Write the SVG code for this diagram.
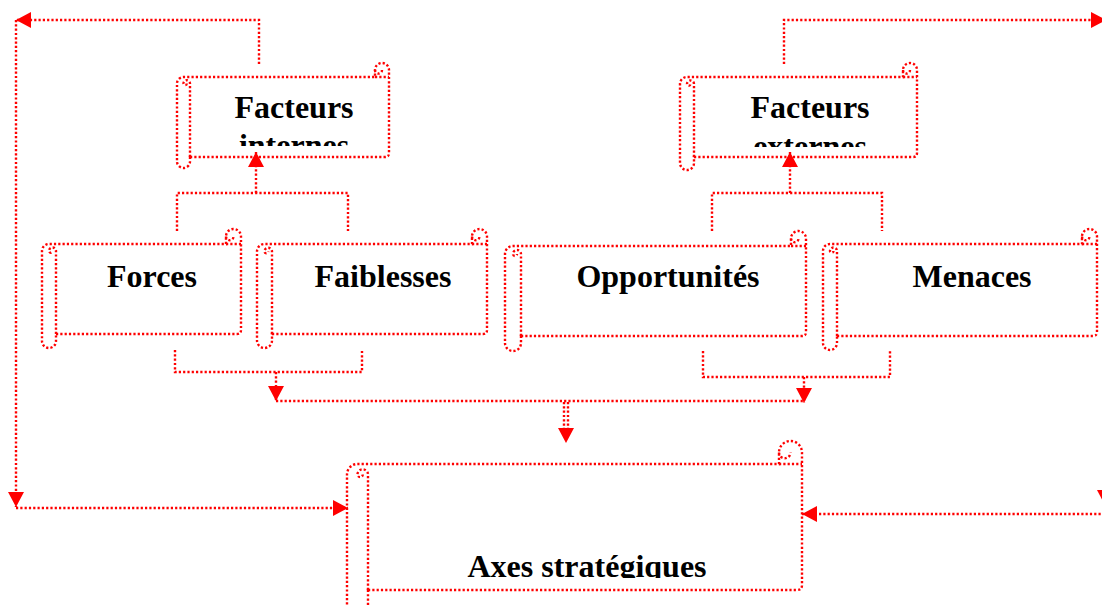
<svg xmlns="http://www.w3.org/2000/svg" width="1102" height="606" viewBox="0 0 1102 606">
<style>
.sh{fill:#fff;stroke:#f00;stroke-width:2.4;stroke-dasharray:2.2 2.1}
.dt{fill:none;stroke:#f00;stroke-width:2.4;stroke-dasharray:2.2 2.1}
.cn{fill:none;stroke:#f00;stroke-width:2.4;stroke-dasharray:2.2 2.1}
.ah{marker-end:url(#ah)}
.tx{font-family:"Liberation Serif","Times New Roman",serif;font-weight:bold;font-size:32px;fill:#000;text-anchor:middle}
</style>
<defs>
<marker id="ah" viewBox="0 0 15 16" refX="15" refY="8" markerWidth="15" markerHeight="16" orient="auto" markerUnits="userSpaceOnUse"><path d="M0,0 L15,8 L0,16 Z" fill="#f00"/></marker>
<clipPath id="cFI"><rect x="190" y="80" width="199" height="66"/></clipPath>
<clipPath id="cFE"><rect x="694" y="80" width="223" height="67"/></clipPath>
<clipPath id="cAX"><rect x="368" y="470" width="434" height="108"/></clipPath>
</defs>
<g id="node-facteurs-internes">
<path class="sh" d="M190,157 H385 Q389,157 389,153 V70 A7,7 0 0 0 375,70 V77 H183.5 A6.5,6.5 0 0 0 177,83.5 V161.5 A6.5,6.5 0 0 0 190,161.5 Z"/>
<path class="dt" d="M190,157 V83.5 A3.25,3.25 0 0 0 183.5,83.5 A1.625,1.625 0 0 0 186.75,83.5 M375,77 H389 M375,70 A3.5,3.5 0 0 0 382,70"/>
<g clip-path="url(#cFI)"><text class="tx" x="294" y="118">Facteurs</text><text class="tx" x="294" y="156">internes</text></g>
</g>
<g id="node-facteurs-externes">
<path class="sh" d="M694,157 H913 Q917,157 917,153 V70 A7,7 0 0 0 903,70 V77 H687 A7,7 0 0 0 680,84 V163 A7,7 0 0 0 694,163 Z"/>
<path class="dt" d="M694,157 V84 A3.5,3.5 0 0 0 687,84 A1.75,1.75 0 0 0 690.5,84 M903,77 H917 M903,70 A3.5,3.5 0 0 0 910,70"/>
<g clip-path="url(#cFE)"><text class="tx" x="810" y="118">Facteurs</text><text class="tx" x="810" y="157">externes</text></g>
</g>
<g id="node-forces">
<path class="sh" d="M56,334 H237 Q241,334 241,330 V236.5 A7.5,7.5 0 0 0 226,236.5 V244 H49 A7,7 0 0 0 42,251 V341 A7,7 0 0 0 56,341 Z"/>
<path class="dt" d="M56,334 V251 A3.5,3.5 0 0 0 49,251 A1.75,1.75 0 0 0 52.5,251 M226,244 H241 M226,236.5 A3.75,3.75 0 0 0 233.5,236.5"/>
<text class="tx" x="152" y="287">Forces</text>
</g>
<g id="node-faiblesses">
<path class="sh" d="M272,334 H483 Q487,334 487,330 V236.5 A7.5,7.5 0 0 0 472,236.5 V244 H264.5 A7.5,7.5 0 0 0 257,251.5 V340.5 A7.5,7.5 0 0 0 272,340.5 Z"/>
<path class="dt" d="M272,334 V251.5 A3.75,3.75 0 0 0 264.5,251.5 A1.875,1.875 0 0 0 268.25,251.5 M472,244 H487 M472,236.5 A3.75,3.75 0 0 0 479.5,236.5"/>
<text class="tx" x="383" y="287">Faiblesses</text>
</g>
<g id="node-opportunites">
<path class="sh" d="M521,336 H802 Q806,336 806,332 V238.5 A7.5,7.5 0 0 0 791,238.5 V246 H513 A8,8 0 0 0 505,254 V343 A8,8 0 0 0 521,343 Z"/>
<path class="dt" d="M521,336 V254 A4,4 0 0 0 513,254 A2,2 0 0 0 517,254 M791,246 H806 M791,238.5 A3.75,3.75 0 0 0 798.5,238.5"/>
<text class="tx" x="668" y="287">Opportunités</text>
</g>
<g id="node-menaces">
<path class="sh" d="M837,336 H1093 Q1097,336 1097,332 V236.5 A7.5,7.5 0 0 0 1082,236.5 V244 H830 A7,7 0 0 0 823,251 V343 A7,7 0 0 0 837,343 Z"/>
<path class="dt" d="M837,336 V251 A3.5,3.5 0 0 0 830,251 A1.75,1.75 0 0 0 833.5,251 M1082,244 H1097 M1082,236.5 A3.75,3.75 0 0 0 1089.5,236.5"/>
<text class="tx" x="972" y="287">Menaces</text>
</g>
<g id="node-axes-strategiques">
<path class="sh" d="M368,590 H797 Q802,590 802,585 V452.5 A11.5,11.5 0 0 0 779,452.5 V464 H357.5 A10.5,10.5 0 0 0 347,474.5 V619.5 A10.5,10.5 0 0 0 368,619.5 Z"/>
<path class="dt" d="M368,590 V474.5 A5.25,5.25 0 0 0 357.5,474.5 A2.625,2.625 0 0 0 362.75,474.5 M779,464 H802 M779,452.5 A5.75,5.75 0 0 0 790.5,452.5"/>
<g clip-path="url(#cAX)"><text class="tx" x="587" y="577">Axes stratégiques</text></g>
</g>
<g id="connectors">
<path class="cn ah" d="M259,64 V20 H16"/>
<path class="cn ah" d="M16,20 V507"/>
<path class="cn ah" d="M16,508 H348"/>
<path class="cn ah" d="M784,64 V20 H1106"/>
<path class="cn ah" d="M1105,20 V505"/>
<path class="cn ah" d="M1105,514 H802"/>
<path class="cn" d="M177,231 V193 H348 V231"/>
<path class="cn ah" d="M256,193 V152"/>
<path class="cn" d="M712,231 V193 H882 V231"/>
<path class="cn ah" d="M790,193 V152"/>
<path class="cn" d="M175,350 V372 H362 V350"/>
<path class="cn ah" d="M276,372 V401"/>
<path class="cn" d="M703,351 V377 H890 V351"/>
<path class="cn ah" d="M804,377 V403"/>
<path class="cn" d="M276,401 H804"/>
<path class="cn" d="M564,402 V432 M568,402 V432"/>
<path d="M558,428 L574,428 L566,443 Z" fill="#f00"/>
</g>
</svg>
